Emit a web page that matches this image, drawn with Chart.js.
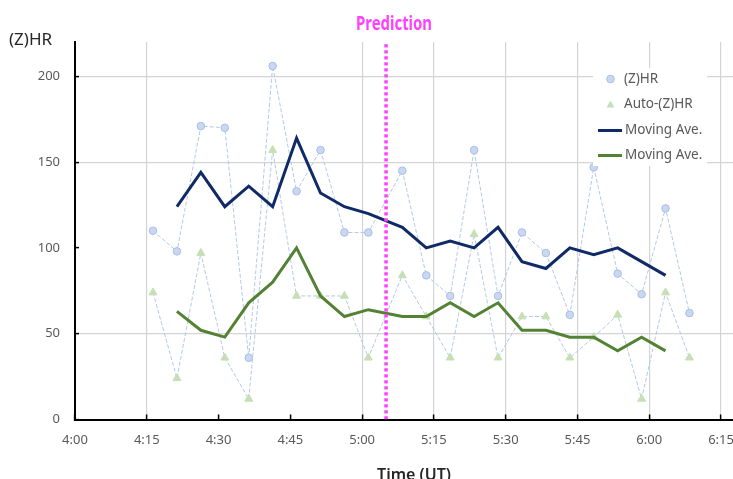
<!DOCTYPE html>
<html>
<head>
<meta charset="utf-8">
<script src="https://cdn.jsdelivr.net/npm/chart.js"></script>
<style>
  body { margin: 0; background: #fff; overflow: hidden; }
</style>
</head>
<body>
<canvas id="chart1" width="733" height="479"></canvas>
<script>

// minutos despues de las 4:00 (UT)
var tiempos = [16.3, 21.3, 26.3, 31.3, 36.3, 41.3, 46.3, 51.3, 56.3, 61.3,
    68.4, 73.4, 78.4, 83.4, 88.4, 93.4, 98.4, 103.4, 108.4, 113.4, 118.4, 123.4, 128.4];

var zhr = [110, 98, 171, 170, 36, 206, 133, 157, 109, 109,
    145, 84, 72, 157, 72, 109, 97, 61, 147, 85, 73, 123, 62];

var autoZhr = [74, 24, 97, 36, 12, 157, 72, 72, 72, 36,
    84, 60, 36, 108, 36, 60, 60, 36, 48, 61, 12, 74, 36];

var mediaZhr = [null, 124, 144, 124, 136, 124, 164, 132, 124, 120,
    112, 100, 104, 100, 112, 92, 88, 100, 96, 100, 92, 84, null];

var mediaAuto = [null, 63, 52, 48, 68, 80, 100, 72, 60, 64,
    60, 60, 68, 60, 68, 52, 52, 48, 48, 40, 48, 40, null];

var tiempoPrediccion = 65;   // 5:05
var yTicks = [0, 50, 100, 150, 200];
var xTicks = [0, 15, 30, 45, 60, 75, 90, 105, 120, 135];

function puntos(valores) {
    return tiempos.map(function (t, i) {
        return { x: t, y: valores[i] };
    });
}

function formatoHora(v) {
    var h = 4 + Math.floor(v / 60);
    var m = v % 60;
    return h + ':' + (m < 10 ? '0' + m : m);
}

var gris = '#595959';
var fuente = 'Noto Sans';
Chart.defaults.font.family = fuente;

// rejilla: el original no muestra algunas lineas
var sinRejillaX = [0, 30, 45];
var sinRejillaY = [0, 100];

var textos = {
    id: 'textos',
    afterDatasetsDraw: function (chart) {
        var ctx = chart.ctx;
        var ds = chart.data.datasets;
        ctx.save();
        ctx.fillStyle = '#ffffff';
        ctx.fillRect(593, 68, 114, 98);

        ctx.font = '13.5px "' + fuente + '"';
        ctx.textBaseline = 'middle';
        ctx.textAlign = 'left';

        // (Z)HR
        ctx.beginPath();
        ctx.arc(610.5, 79, 3.8, 0, Math.PI * 2);
        ctx.fillStyle = ds[3].pointBackgroundColor;
        ctx.fill();
        ctx.strokeStyle = ds[3].pointBorderColor;
        ctx.lineWidth = 1;
        ctx.stroke();
        ctx.fillStyle = gris;
        ctx.fillText(ds[3].label, 624, 79);

        // Auto-(Z)HR
        ctx.beginPath();
        ctx.moveTo(610.5, 100.5);
        ctx.lineTo(614.5, 107.5);
        ctx.lineTo(606.5, 107.5);
        ctx.closePath();
        ctx.fillStyle = ds[4].pointBackgroundColor;
        ctx.fill();
        ctx.fillStyle = gris;
        ctx.fillText(ds[4].label, 624, 104.5);

        // medias moviles
        [[ds[1], 130.5], [ds[2], 155.5]].forEach(function (it) {
            ctx.beginPath();
            ctx.moveTo(598, it[1]);
            ctx.lineTo(622, it[1]);
            ctx.strokeStyle = it[0].borderColor;
            ctx.lineWidth = 3;
            ctx.stroke();
            ctx.fillStyle = gris;
            ctx.fillText(it[0].label, 625, it[1]);
        });
        ctx.restore();
    },
    afterDraw: function (chart) {
        var ctx = chart.ctx;
        var xp = chart.scales.x.getPixelForValue(tiempoPrediccion);
        ctx.save();
        ctx.textBaseline = 'alphabetic';

        ctx.textAlign = 'center';
        ctx.fillStyle = '#ff40ff';
        ctx.font = 'bold 19px "' + fuente + '"';
        ctx.fillText('Prediction', xp + 8, 30, 76);

        ctx.textAlign = 'left';
        ctx.fillStyle = '#262626';
        ctx.font = '17px "' + fuente + '"';
        ctx.fillText('(Z)HR', 9, 45);

        ctx.textAlign = 'center';
        ctx.font = '600 16px "' + fuente + '"';
        ctx.fillText('Time (UT)', 414, 480, 74);
        ctx.restore();
    }
};

var datos = {
    datasets: [{
        label: 'Prediction',
        data: [{ x: tiempoPrediccion, y: 0 }, { x: tiempoPrediccion, y: 220 }],
        borderColor: '#ff40ff',
        borderWidth: 3.5,
        borderDash: [3.3, 2.7],
        pointRadius: 0,
        order: 0
    }, {
        label: 'Moving Ave.',
        data: puntos(mediaZhr),
        borderColor: '#0f2a66',
        borderWidth: 3,
        pointRadius: 0,
        tension: 0,
        order: 1
    }, {
        label: 'Moving Ave.',
        data: puntos(mediaAuto),
        borderColor: '#548235',
        borderWidth: 3,
        pointRadius: 0,
        tension: 0,
        order: 2
    }, {
        label: '(Z)HR',
        data: puntos(zhr),
        borderColor: '#b4c7e7',
        borderWidth: 1,
        borderDash: [4, 2],
        pointStyle: 'circle',
        pointRadius: 3.8,
        pointBackgroundColor: '#c9d7f0',
        pointBorderColor: '#a9bfe6',
        pointBorderWidth: 1,
        order: 4
    }, {
        label: 'Auto-(Z)HR',
        data: puntos(autoZhr),
        borderColor: '#b4c7e7',
        borderWidth: 1,
        borderDash: [4, 2],
        pointStyle: 'triangle',
        pointRadius: 4.6,
        pointBackgroundColor: '#c5e0b4',
        pointBorderColor: '#c5e0b4',
        pointBorderWidth: 1,
        order: 3
    }]
};

var canvas = document.getElementById('chart1').getContext('2d');

window.grafico = new Chart(canvas, {
    type: 'line',
    data: datos,
    plugins: [textos],
    options: {
        responsive: false,
        animation: false,
        layout: {
            autoPadding: false,
            padding: { top: 42, left: 0, right: 0, bottom: 0 }
        },
        plugins: {
            legend: { display: false },
            tooltip: { enabled: false },
            title: { display: false }
        },
        scales: {
            x: {
                type: 'linear',
                min: 0,
                max: 137.5,
                afterBuildTicks: function (s) {
                    s.ticks = xTicks.map(function (v) { return { value: v }; });
                },
                ticks: {
                    autoSkip: false,
                    maxRotation: 0,
                    padding: 18,
                    color: gris,
                    font: { size: 13 },
                    callback: function (v) { return formatoHora(v); }
                },
                grid: {
                    color: function (c) {
                        return c.tick && sinRejillaX.indexOf(c.tick.value) < 0 ? '#d4d4d4' : 'rgba(0,0,0,0)';
                    },
                    lineWidth: 1.2,
                    tickColor: '#000',
                    tickLength: -5,
                    tickWidth: 1.5
                },
                border: { color: '#000', width: 2 },
                afterFit: function (s) {
                    s.height = 59.5;
                    s.paddingLeft = 0;
                    s.paddingRight = 0;
                }
            },
            y: {
                min: 0,
                max: 220,
                afterBuildTicks: function (s) {
                    s.ticks = yTicks.map(function (v) { return { value: v }; });
                },
                ticks: {
                    padding: 19,
                    color: gris,
                    font: { size: 13 }
                },
                grid: {
                    color: function (c) {
                        return c.tick && sinRejillaY.indexOf(c.tick.value) < 0 ? '#d4d4d4' : 'rgba(0,0,0,0)';
                    },
                    lineWidth: 1.2,
                    tickColor: '#000',
                    tickLength: -4,
                    tickWidth: 1.5
                },
                border: { color: '#000', width: 2 },
                afterFit: function (s) {
                    s.width = 75;
                    s.paddingTop = 0;
                    s.paddingBottom = 0;
                }
            }
        }
    }
});
</script>
</body>
</html>
